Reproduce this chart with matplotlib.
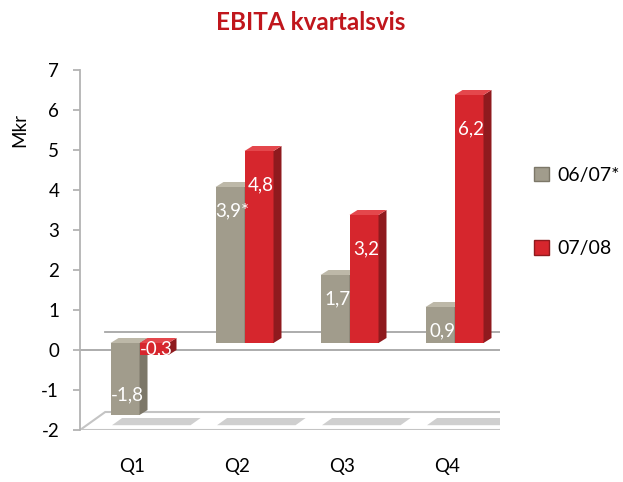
import matplotlib
matplotlib.use('Agg')
import matplotlib.pyplot as plt
from matplotlib.patches import Polygon, Patch

quarters = ['Q1', 'Q2', 'Q3', 'Q4']
ebita_0607 = [-1.8, 3.9, 1.7, 0.9]
ebita_0708 = [-0.3, 4.8, 3.2, 6.2]
labels_0607 = ['-1,8', '3,9*', '1,7', '0,9']
labels_0708 = ['-0,3', '4,8', '3,2', '6,2']
series_names = ['06/07*', '07/08']
yticks = [-2, -1, 0, 1, 2, 3, 4, 5, 6, 7]

plt.rcParams['font.family'] = ['Lato', 'DejaVu Sans']
plt.rcParams['axes.unicode_minus'] = False

# face colours: front, side, top
gray = ('#a19c8c', '#7c7768', '#bdb8a8')
red = ('#d6262d', '#8f1a1e', '#e4474c')

fig = plt.figure(figsize=(6.23, 4.82), dpi=100)
ax = fig.add_axes([80 / 623, 52 / 482, 420 / 623, 360 / 482])
ax.set_xlim(-0.5, 3.5)
ax.set_ylim(-2, 7)

# fake 3d depth, in data units
bar_dx, bar_dy = 0.067, 0.175    # plane the bars stand in
back_dx, back_dy = 0.24, 0.45    # back wall
top_dx, top_dy = 0.076, 0.125    # thickness of a bar
width = 0.276


def draw_bar(x0, v, cols, z):
    lo = bar_dy + min(v, 0)
    hi = bar_dy + max(v, 0)
    ax.bar(x0, v, width=width, bottom=bar_dy, align='edge', color=cols[0],
           linewidth=0, zorder=z)
    x1 = x0 + width
    side = [(x1, lo), (x1, hi), (x1 + top_dx, hi + top_dy), (x1 + top_dx, lo + top_dy)]
    top = [(x0, hi), (x1, hi), (x1 + top_dx, hi + top_dy), (x0 + top_dx, hi + top_dy)]
    ax.add_patch(Polygon(side, closed=True, facecolor=cols[1], linewidth=0, zorder=z))
    ax.add_patch(Polygon(top, closed=True, facecolor=cols[2], linewidth=0, zorder=z))


# floor at -2
floor = [(-0.5, -2), (3.5, -2), (3.5 + back_dx, -2 + back_dy), (-0.5 + back_dx, -2 + back_dy)]
ax.add_patch(Polygon(floor, closed=True, facecolor='white', edgecolor='#c4c4c4',
                     linewidth=1.5, zorder=0))

# zero lines, front and back
ax.plot([-0.5, 3.5], [0, 0], color='#a6a6a6', lw=1.3, zorder=1)
ax.plot([-0.5 + back_dx, 3.5 + back_dx], [back_dy, back_dy], color='#a6a6a6', lw=1.3, zorder=1)

for i in range(len(quarters)):
    c = i + bar_dx
    # shadow on the floor
    s0, s1 = -2 + 0.12, -2 + 0.3
    xa = c - width - 0.05
    xb = c + width + top_dx + 0.07
    k = back_dx / back_dy
    shadow = [(xa + k * 0.12, s0), (xb + k * 0.12, s0), (xb + k * 0.3, s1), (xa + k * 0.3, s1)]
    ax.add_patch(Polygon(shadow, closed=True, facecolor='#cfcfcf', linewidth=0, zorder=0.5))

    draw_bar(c - width, ebita_0607[i], gray, 2 + i)
    draw_bar(c, ebita_0708[i], red, 2 + i)

    for x0, v, txt, off in [(c - width, ebita_0607[i], labels_0607[i], 0.6),
                            (c, ebita_0708[i], labels_0708[i], 0.85)]:
        if v >= 0:
            ty = bar_dy + v - off
        else:
            ty = bar_dy + min(v + 0.5, v / 2)
        ax.text(x0 + width / 2 + 0.02, ty, txt, color='white', fontsize=13.5,
                ha='center', va='center', zorder=10)

for sp in ['top', 'right', 'bottom']:
    ax.spines[sp].set_visible(False)
ax.spines['left'].set_color('#b3b3b3')
ax.spines['left'].set_linewidth(1.3)
ax.set_yticks(yticks)
ax.set_yticklabels([str(t) for t in yticks])
ax.tick_params(axis='y', colors='#b3b3b3', labelcolor='black', length=5, width=1.3,
               pad=10, labelsize=13.5)
ax.set_xticks(range(len(quarters)))
ax.set_xticklabels(quarters)
ax.tick_params(axis='x', length=0, pad=20, labelsize=13.5)

fig.text(20 / 623, 1 - 130 / 482, 'Mkr', rotation=90, ha='center', va='center', fontsize=13.5)
fig.text(311 / 623, 1 - 22 / 482, 'EBITA kvartalsvis', ha='center', va='center',
         fontsize=17.5, fontweight='bold', color='#c0161c')

handles = [Patch(facecolor=gray[0], edgecolor=gray[1]), Patch(facecolor=red[0], edgecolor=red[1])]
fig.legend(handles, series_names, loc='center left', bbox_to_anchor=(516 / 623, 1 - 212 / 482),
           frameon=False, fontsize=14, handlelength=0.8, handleheight=0.8,
           handletextpad=0.45, labelspacing=2.9)

fig.savefig('out.png', dpi=100)
